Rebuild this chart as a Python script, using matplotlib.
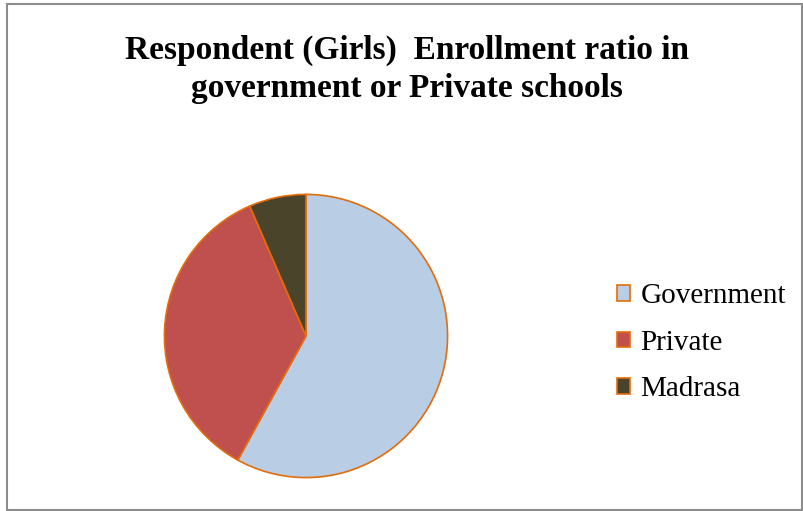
import matplotlib.pyplot as plt
from matplotlib.patches import Rectangle

# Data
labels = ['Government', 'Private', 'Madrasa']
values = [58, 35.5, 6.5]
colors = ['#B9CDE5', '#C0504D', '#4A452A']
edge = '#E46C0A'

fig = plt.figure(figsize=(8.04, 5.11), dpi=100)

# outer chart border
fig.patches.append(Rectangle((7 / 804, 1 / 511), 795 / 804, 506 / 511,
                             transform=fig.transFigure, fill=False,
                             edgecolor='#8C8C8C', linewidth=1.5))

cx, cy, r = 306 / 804, (511 - 336) / 511, 143
w, h = r / 804, r / 511
ax = fig.add_axes([cx - w, cy - h, 2 * w, 2 * h])
wedges, _ = ax.pie(values, colors=colors, startangle=90, counterclock=False,
                   wedgeprops=dict(edgecolor=edge, linewidth=1.2))
ax.set_xlim(-1.01, 1.01)
ax.set_ylim(-1.01, 1.01)
ax.set_aspect('equal')

fig.text(0.506, 0.865, 'Respondent (Girls)  Enrollment ratio in\ngovernment or Private schools',
         ha='center', va='center', fontsize=24, fontweight='bold',
         family='Liberation Serif', linespacing=1.3)

leg = fig.legend(wedges, labels, loc='center left', bbox_to_anchor=(0.735, 0.329),
                 frameon=False, prop={'family': 'Liberation Serif', 'size': 21},
                 handlelength=0.45, handleheight=0.45, handletextpad=0.35,
                 labelspacing=0.7)

fig.savefig('out.png', dpi=100)
